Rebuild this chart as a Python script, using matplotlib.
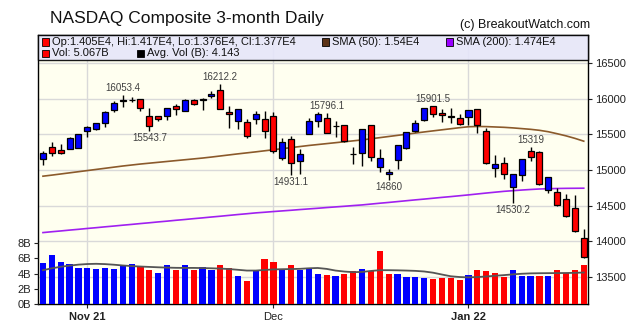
import matplotlib
matplotlib.use("Agg")
import matplotlib.pyplot as plt
from matplotlib.patches import Rectangle

plt.rcParams['font.family'] = ['Liberation Sans', 'DejaVu Sans']

# ---------------- data ----------------
opens = [15151, 15320, 15283, 15302, 15316, 15545, 15583, 15658, 15850, 15985,
         15988, 16002, 15756, 15756, 15756, 15897, 15836, 15981, 15990, 16037,
         16122, 15817, 15686, 15677, 15719, 15714, 15756, 15175, 15433, 15123,
         15512, 15695, 15728, 15620, 15630, 15230, 15236, 15630, 15039, 14941,
         15137, 15315, 15545, 15700, 15897, 15803, 15755, 15728, 15742, 15855,
         15545, 15025, 15095, 14758, 14927, 15264, 15250, 14720, 14687, 14589,
         14462, 14050]
highs = [15264, 15395, 15363, 15461, 15508, 15625, 15663, 15836, 15967, 16053.4,
         16020, 16002, 15869, 15766, 15873, 15930, 16000, 16000, 16014, 16117,
         16212.2, 15897, 15855, 15723, 15836, 15826, 15822, 15451, 15480, 15297,
         15728, 15812, 15796.1, 15695, 15639, 15320, 15573, 15630, 15297, 15016,
         15348, 15531, 15705, 15869, 15901.5, 15855, 15869, 15784, 15841, 15855,
         15592, 15208, 15180, 14941, 15156, 15319, 15264, 14898, 14748, 14659,
         14650, 14170]
lows = [15077, 15203, 15231, 15292, 15316, 15470, 15569, 15611, 15822, 15892,
        15960, 15831, 15543.7, 15695, 15709, 15780, 15827, 15911, 15850, 16014,
        15855, 15597, 15578, 15456, 15644, 15456, 15241, 15147, 14931.1, 14940,
        15512, 15611, 15517, 15470, 15400, 15091, 15053, 15123, 14969, 14860,
        15016, 15297, 15531, 15695, 15751, 15681, 15658, 15639, 15634, 15522,
        15091, 14908, 14875, 14530.2, 14847, 15123, 14791, 14683, 14491, 14336,
        14134, 13760]
closes = [15236, 15236, 15236, 15447, 15503, 15602, 15658, 15817, 15939, 15967,
          15982, 15878, 15625, 15714, 15873, 15855, 15986, 15925, 15995, 16075,
          15855, 15784, 15855, 15484, 15789, 15550, 15264, 15395, 15095, 15222,
          15686, 15789, 15517, 15625, 15414, 15226, 15573, 15180, 15170, 14978,
          15348, 15531, 15658, 15869, 15784, 15775, 15750, 15644, 15841, 15630,
          15105, 15081, 14941, 14941, 15156, 15189, 14809, 14898, 14505, 14350,
          14148, 13770]
volumes = [5.33, 6.51, 5.59, 5.2, 4.8, 4.8, 4.67, 4.8, 4.67, 5.07,
           5.2, 4.93, 4.54, 4.14, 5.07, 4.54, 5.07, 4.54, 4.93, 4.41,
           5.07, 4.8, 3.75, 3.09, 4.28, 5.86, 5.59, 4.54, 5.07, 4.54,
           4.6, 4.0, 3.88, 3.75, 4.0, 4.28, 4.6, 4.28, 7.04, 4.0,
           4.0, 3.6, 3.5, 3.4, 3.28, 3.4, 3.4, 3.14, 3.88, 4.54,
           4.28, 4.14, 3.6, 4.54, 3.75, 3.75, 3.75, 3.75, 4.54, 4.14,
           4.54, 5.067]
vol_up = "BBBBBBBBBBBRRBBRBRBBRRBRBRRBRBBBRBRRBRRRBBBBRRRRBRRRRBBBRBRRRR"
avg_vol = [4.45, 4.7, 4.9, 5.05, 5.18, 5.26, 5.29, 5.25, 5.17, 5.07,
           4.99, 4.93, 4.88, 4.83, 4.79, 4.76, 4.75, 4.75, 4.73, 4.7,
           4.66, 4.6, 4.5, 4.4, 4.4, 4.48, 4.55, 4.58, 4.6, 4.63,
           4.7, 4.74, 4.62, 4.4, 4.27, 4.19, 4.22, 4.35, 4.45, 4.45,
           4.43, 4.4, 4.36, 4.28, 4.12, 3.88, 3.65, 3.55, 3.5, 3.55,
           3.62, 3.72, 3.8, 3.9, 3.98, 4.03, 4.05, 4.06, 4.07, 4.08,
           4.1, 4.143]
sma50 = [14913, 14928, 14944, 14960, 14976, 14992, 15008, 15024, 15040, 15056,
         15070, 15084, 15096, 15108, 15120, 15132, 15144, 15156, 15168, 15182,
         15197, 15212, 15227, 15241, 15255, 15270, 15285, 15300, 15315, 15330,
         15345, 15358, 15371, 15384, 15397, 15410, 15423, 15439, 15455, 15471,
         15487, 15503, 15519, 15535, 15550, 15565, 15580, 15595, 15608, 15612,
         15610, 15605, 15600, 15592, 15582, 15572, 15558, 15538, 15510, 15480,
         15445, 15405]
sma200 = [14120, 14132, 14143, 14155, 14166, 14178, 14189, 14201, 14212, 14224,
          14235, 14247, 14258, 14270, 14281, 14293, 14304, 14316, 14327, 14339,
          14350, 14362, 14374, 14385, 14397, 14406, 14416, 14425, 14434, 14444,
          14453, 14462, 14472, 14481, 14490, 14500, 14509, 14521, 14533, 14544,
          14556, 14568, 14580, 14591, 14603, 14615, 14626, 14638, 14650, 14663,
          14676, 14688, 14700, 14709, 14718, 14726, 14733, 14737, 14740, 14742,
          14743, 14744]
month_pos = [5, 26, 48]
month_labels = ["Nov 21", "Dec", "Jan 22"]
month_bold = [True, False, True]
hi_marks = [9, 20, 32, 44, 55]
lo_marks = [12, 28, 39, 53]
price_ticks = [13500, 14000, 14500, 15000, 15500, 16000, 16500]
vol_ticks = [0, 2, 4, 6, 8]

# ---------------- figure ----------------
W, H = 627, 336
fig = plt.figure(figsize=(W / 100, H / 100), dpi=100)
L, R, T, B = 38, 588, 35, 304
ax = fig.add_axes([L / W, 1 - B / H, (R - L) / W, (B - T) / H])
ax.set_facecolor('#fffff0')
n = len(closes)
xs = list(range(n))

# grid
for p in price_ticks:
    ax.axhline(p, color='#d9d9d9', lw=1, zorder=0)
for m in month_pos:
    ax.axvline(m, color='#d9d9d9', lw=1, zorder=0)

# SMA lines
ax.plot(xs, sma50, color='#8b5a2b', lw=1.2, zorder=2)
ax.plot(xs, sma200, color='#a020f0', lw=1.2, zorder=2)

# candles
ax.vlines(xs, lows, highs, color='black', lw=1, zorder=3)
bw = 0.68
for i in range(n):
    o, c = opens[i], closes[i]
    col = '#0000ff' if c >= o else '#ff0000'
    bot = min(o, c)
    h = max(abs(c - o), 4)
    ax.bar(i, h, bottom=bot, width=bw, color=col, edgecolor='black', lw=0.9, zorder=4)

ax.set_xlim(-0.56, 61.48)
ax.set_ylim(13116, 16898)
ax.set_xticks(month_pos)
ax.set_xticklabels(month_labels)
for lab, b in zip(ax.get_xticklabels(), month_bold):
    lab.set_fontweight('bold' if b else 'normal')
ax.tick_params(axis='x', labelsize=8, colors='#222222', length=3, pad=3)
for s in ax.spines.values():
    s.set_color('black')
    s.set_linewidth(1)

# high / low annotations
for i in hi_marks:
    ax.annotate(f"{highs[i]:g}", (i, highs[i]), xytext=(0, 1.5), textcoords='offset points',
                ha='center', va='bottom', fontsize=7, color='#404040', zorder=6)
for i in lo_marks:
    ax.annotate(f"{lows[i]:g}", (i, lows[i]), xytext=(0, -1.5), textcoords='offset points',
                ha='center', va='top', fontsize=7, color='#404040', zorder=6)

# volume on twin axis
axv = ax.twinx()
axv.set_ylim(0, 35.4)
vcols = ['#0000ff' if u == 'B' else '#ff0000' for u in vol_up]
axv.bar(xs, volumes, width=0.7, color=vcols, zorder=2)
axv.plot(xs, avg_vol, color='#555555', lw=1.3, zorder=3)
axv.set_xlim(-0.56, 61.48)
for s in axv.spines.values():
    s.set_visible(False)

# tick sides: price on right, volume on left (set after twinx)
ax.yaxis.tick_right()
ax.yaxis.set_label_position('right')
ax.set_yticks(price_ticks)
ax.set_yticklabels([str(p) for p in price_ticks])
ax.tick_params(axis='y', which='both', left=False, labelleft=False, right=True, labelright=True,
               labelsize=8, colors='#222222', length=3, pad=2)

axv.yaxis.tick_left()
axv.yaxis.set_label_position('left')
axv.set_yticks(vol_ticks)
axv.set_yticklabels([f"{v}B" for v in vol_ticks])
axv.tick_params(axis='y', which='both', right=False, labelright=False, left=True, labelleft=True,
                labelsize=8, colors='#222222', length=3, pad=2)

# legend box
def fx(x):
    return x / W

def fy(y):
    return 1 - y / H

fig.patches.append(Rectangle((fx(L), fy(60)), (R - L) / W, 25 / H, transform=fig.transFigure,
                             facecolor='#e6e6fa', edgecolor='black', lw=1, alpha=0.9, zorder=10))

def key(x, y, col, text):
    fig.patches.append(Rectangle((fx(x), fy(y + 3.5)), 7 / W, 7 / H, transform=fig.transFigure,
                                 facecolor=col, edgecolor='black', lw=0.6, zorder=11))
    fig.text(fx(x + 10), fy(y), text, fontsize=8, color='#111111', va='center', ha='left', zorder=12)

key(42, 42, '#ff0000', "Op:1.405E4, Hi:1.417E4, Lo:1.376E4, Cl:1.377E4")
key(322, 42, '#5c3317', "SMA (50): 1.54E4")
key(446, 42, '#9900ff', "SMA (200): 1.474E4")
key(42, 53.5, '#ff0000', "Vol: 5.067B")
key(137, 53.5, '#000000', "Avg. Vol (B): 4.143")

fig.text(fx(50), fy(19), "NASDAQ Composite 3-month Daily", fontsize=12.5, color='#111111',
         ha='left', va='center')
fig.text(fx(590), fy(25), "(c) BreakoutWatch.com", fontsize=9, color='#111111',
         ha='right', va='center')

fig.savefig("out.png", dpi=100, facecolor='white')
